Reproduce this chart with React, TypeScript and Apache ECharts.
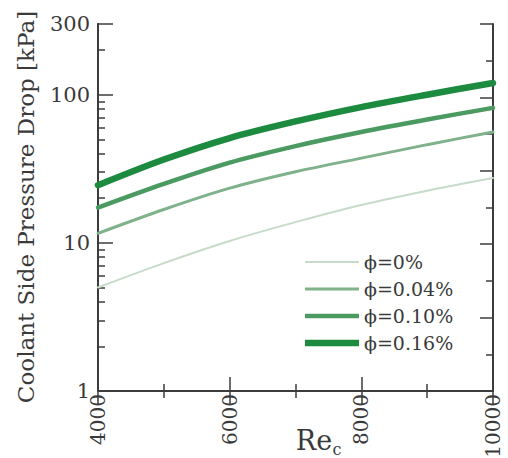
import React, { useEffect, useRef } from "react";
import * as echarts from "echarts";

const RE = [4000, 5000, 6000, 7000, 8000, 9000, 10000];
const DP_0 = [5.0, 7.3, 10.3, 13.8, 18.0, 22.5, 27.4];
const DP_004 = [11.6, 16.8, 23.4, 30.2, 37.3, 46.0, 56.0];
const DP_010 = [17.3, 25.0, 34.8, 45.0, 56.0, 68.0, 81.5];
const DP_016 = [24.5, 36.5, 51.0, 66.0, 82.5, 100.0, 120.0];

const SERIES_NAMES = ["ϕ=0%", "ϕ=0.04%", "ϕ=0.10%", "ϕ=0.16%"];
const SERIES_DATA = [DP_0, DP_004, DP_010, DP_016];
const SERIES_COLORS = ["#c6dbc9", "#7fb18b", "#4a9a62", "#1c8a3f"];
const SERIES_WIDTHS = [2, 3, 4.5, 6.5];

const Y_MINOR_TICKS = [2, 3, 4, 5, 6, 7, 8, 9, 20, 30, 40, 50, 60, 70, 80, 90, 200];

const FONT = "DejaVu Serif";
const AXIS_COLOR = "#3c3c3c";
const TEXT_COLOR = "#3a3a3a";

export default function App() {
  const ref = useRef<HTMLDivElement>(null);

  useEffect(() => {
    document.body.style.margin = "0";
    if (!ref.current) return;
    const chart = echarts.init(ref.current, undefined, { renderer: "svg" });

    const series: any[] = SERIES_NAMES.map((name, i) => ({
      name,
      type: "line",
      xAxisIndex: 0,
      yAxisIndex: 0,
      symbol: "none",
      smooth: 0.3,
      data: RE.map((x, j) => [x, SERIES_DATA[i][j]]),
      lineStyle: { color: SERIES_COLORS[i], width: SERIES_WIDTHS[i], cap: "round" },
      itemStyle: { color: SERIES_COLORS[i] },
      z: 2 + i,
    }));

    const legendData = SERIES_NAMES.map((name, i) => ({
      name,
      icon: `path://M0,0 H54 V${SERIES_WIDTHS[i]} H0 Z`,
      itemStyle: { color: SERIES_COLORS[i] },
    }));

    const xCommon = {
      type: "value",
      min: 4000,
      max: 10000,
      interval: 2000,
      axisLine: { show: true, lineStyle: { color: AXIS_COLOR, width: 2 } },
      axisTick: { show: true, inside: true, length: 14, lineStyle: { color: AXIS_COLOR, width: 1.5 } },
      minorTick: { show: true, splitNumber: 2, length: 7, lineStyle: { color: AXIS_COLOR, width: 1.5 } },
      splitLine: { show: false },
      minorSplitLine: { show: false },
    };

    chart.setOption({
      animation: false,
      backgroundColor: "#ffffff",
      grid: { left: 98, top: 24, right: 15, bottom: 67, containLabel: false, outerBoundsMode: "none" },
      legend: {
        left: 300,
        top: 247,
        orient: "vertical",
        itemWidth: 54,
        itemHeight: 14,
        itemGap: 7,
        data: legendData,
        textStyle: { fontFamily: FONT, fontSize: 19, color: TEXT_COLOR, lineHeight: 20 },
      },
      xAxis: [
        {
          ...xCommon,
          position: "bottom",
          axisLabel: {
            show: true,
            rotate: 90,
            margin: 3,
            fontFamily: FONT,
            fontSize: 20,
            color: TEXT_COLOR,
            formatter: (v: number) => String(v),
          },
        },
        {
          ...xCommon,
          position: "top",
          axisLabel: { show: false },
        },
      ],
      yAxis: [
        {
          type: "log",
          logBase: 10,
          min: 1,
          max: 300,
          position: "left",
          axisLine: { show: true, lineStyle: { color: AXIS_COLOR, width: 2 } },
          axisTick: { show: true, inside: true, length: 15, lineStyle: { color: AXIS_COLOR, width: 1.5 } },
          axisLabel: {
            show: true,
            margin: 8,
            fontFamily: FONT,
            fontSize: 21,
            color: TEXT_COLOR,
            showMaxLabel: true,
            formatter: (v: number) => String(v),
          },
          splitLine: { show: false },
        },
        {
          // same log scale expressed in decades, used only to place the minor log ticks
          type: "value",
          min: 0,
          max: Math.log10(300),
          position: "left",
          offset: 0,
          axisLine: { show: true, lineStyle: { color: AXIS_COLOR, width: 2 } },
          axisLabel: { show: false },
          splitLine: { show: false },
          axisTick: {
            show: true,
            inside: true,
            length: 7,
            customValues: Y_MINOR_TICKS.map((v) => Math.log10(v)),
            lineStyle: { color: AXIS_COLOR, width: 1.5 },
          },
        },
        {
          type: "value",
          min: 0,
          max: 10,
          interval: 2,
          position: "right",
          offset: 0,
          axisLine: { show: true, lineStyle: { color: AXIS_COLOR, width: 2 } },
          axisLabel: { show: false },
          splitLine: { show: false },
          minorSplitLine: { show: false },
          axisTick: { show: true, inside: true, length: 13, lineStyle: { color: AXIS_COLOR, width: 1.5 } },
          minorTick: { show: true, splitNumber: 2, length: 7, lineStyle: { color: AXIS_COLOR, width: 1.5 } },
        },
      ],
      graphic: [
        {
          type: "text",
          x: 26,
          y: 207,
          rotation: Math.PI / 2,
          style: {
            text: "Coolant Side Pressure Drop [kPa]",
            fontFamily: FONT,
            fontSize: 23,
            fill: TEXT_COLOR,
            align: "center",
            verticalAlign: "middle",
          },
        },
        {
          type: "text",
          x: 314,
          y: 440,
          style: {
            text: "Re",
            fontFamily: FONT,
            fontSize: 27,
            fill: TEXT_COLOR,
            align: "center",
            verticalAlign: "middle",
          },
        },
        {
          type: "text",
          x: 337,
          y: 449,
          style: {
            text: "c",
            fontFamily: FONT,
            fontSize: 16,
            fill: TEXT_COLOR,
            align: "center",
            verticalAlign: "middle",
          },
        },
      ],
      series,
    });

    return () => chart.dispose();
  }, []);

  return <div ref={ref} style={{ width: 508, height: 458 }} />;
}
